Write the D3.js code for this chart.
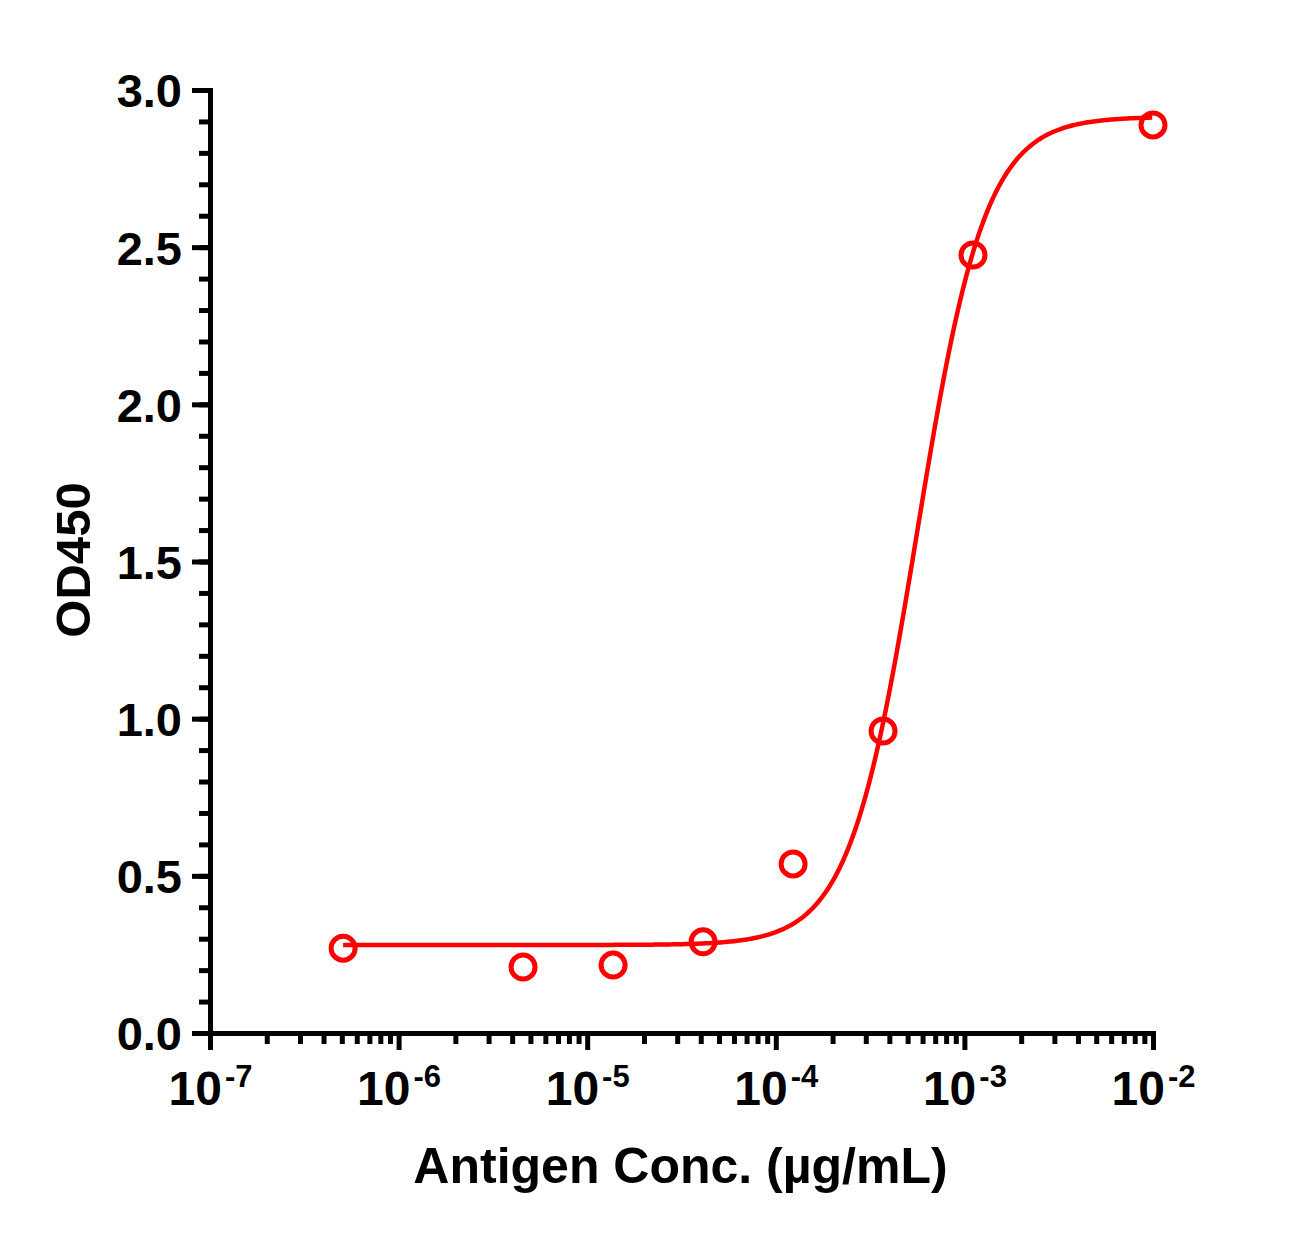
<!DOCTYPE html>
<html lang="en">
  <head>
    <meta charset="utf-8">
    <script src="https://cdn.jsdelivr.net/npm/d3@7"></script>
    <style>
      body { margin: 0; background: #fff; }
      text { font-family: "Liberation Sans", Arial, sans-serif; font-weight: bold; fill: #000; }
    </style>
  </head>
  <body>
    <svg id="chart"></svg>
  </body>
  <script>
    // measured points (µg/mL, OD450)
    var conc = [5.08e-7, 4.57e-6, 1.372e-5, 4.115e-5, 1.235e-4, 3.704e-4, 1.111e-3, 1.0e-2];
    var od = [0.270, 0.210, 0.216, 0.290, 0.538, 0.961, 2.475, 2.889];

    // 4PL fit
    var fitBottom = 0.28;
    var fitTop = 2.915;
    var fitEC50 = 5.63e-4;
    var fitHill = 2.4;

    var yTicks = [0, 0.5, 1.0, 1.5, 2.0, 2.5, 3.0];
    var xExponents = [-7, -6, -5, -4, -3, -2];

    var W = 1308, H = 1236;
    var mLeft = 210, mTop = 90, plotW = 943, plotH = 943;

    var svg = d3.select('#chart').attr('width', W).attr('height', H);
    var g = svg.append('g').attr('transform', 'translate(' + mLeft + ',' + mTop + ')');

    var x = d3.scaleLog().domain([1e-7, 1e-2]).range([0, plotW]);
    var y = d3.scaleLinear().domain([0, 3]).range([plotH, 0]);

    // minor ticks first, then major on top
    var yMinor = d3.range(0, 3.0001, 0.1).map(function(v){ return +v.toFixed(1); });
    g.append('g').attr('class', 'yminor')
      .call(d3.axisLeft(y).tickValues(yMinor).tickSize(11).tickSizeOuter(0).tickFormat(''));

    var yAxis = g.append('g').attr('class', 'yaxis')
      .call(d3.axisLeft(y).tickValues(yTicks).tickSize(18).tickSizeOuter(0).tickPadding(10)
        .tickFormat(d3.format('.1f')));
    yAxis.selectAll('text').style('font-size', '47px').attr('dy', '0.36em');

    var xMinor = [];
    xExponents.slice(0, -1).forEach(function(e){
      for (var k = 2; k <= 9; k++) xMinor.push(k * Math.pow(10, e));
    });
    g.append('g').attr('class', 'xminor')
      .attr('transform', 'translate(0,' + plotH + ')')
      .call(d3.axisBottom(x).tickValues(xMinor).tickSize(11).tickSizeOuter(0).tickFormat(''));

    var xAxis = g.append('g').attr('class', 'xaxis')
      .attr('transform', 'translate(0,' + plotH + ')')
      .call(d3.axisBottom(x).tickValues(xExponents.map(function(e){ return Math.pow(10, e); }))
        .tickSize(17).tickSizeOuter(0).tickFormat(''));

    xAxis.selectAll('.tick').each(function(d){
      var e = Math.round(Math.log10(d));
      var t = d3.select(this).select('text')
        .attr('y', 72).attr('dy', null).attr('text-anchor', 'middle');
      t.append('tspan').style('font-size', '48px').text('10');
      t.append('tspan').style('font-size', '31px').attr('dy', '-18').attr('dx', '3').text('-' + Math.abs(e));
    });

    svg.selectAll('.domain, .tick line')
      .attr('stroke', '#000').attr('stroke-width', 5);
    svg.selectAll('.domain').attr('stroke-linecap', 'square');

    // fitted curve
    var curveX = d3.range(Math.log10(conc[0]), Math.log10(conc[conc.length - 1]) + 0.0001, 0.01)
      .map(function(l){ return Math.pow(10, l); });
    var fit = function(c){
      return fitBottom + (fitTop - fitBottom) / (1 + Math.pow(fitEC50 / c, fitHill));
    };
    g.append('path')
      .datum(curveX)
      .attr('fill', 'none')
      .attr('stroke', '#ff0000')
      .attr('stroke-width', 4.5)
      .attr('d', d3.line().x(function(c){ return x(c); }).y(function(c){ return y(fit(c)); }));

    // points
    g.selectAll('circle.pt')
      .data(conc).enter()
      .append('circle')
      .attr('class', 'pt')
      .attr('cx', function(d){ return x(d); })
      .attr('cy', function(d, i){ return y(od[i]); })
      .attr('r', 12)
      .attr('fill', 'none')
      .attr('stroke', '#ff0000')
      .attr('stroke-width', 5);

    // axis titles
    svg.append('text')
      .attr('x', mLeft + plotW / 2 - 1).attr('y', 1183)
      .attr('text-anchor', 'middle')
      .style('font-size', '50px')
      .text('Antigen Conc. (µg/mL)');

    svg.append('text')
      .attr('transform', 'translate(90,560) rotate(-90)')
      .attr('text-anchor', 'middle')
      .style('font-size', '49px')
      .text('OD450');
  </script>
</html>
